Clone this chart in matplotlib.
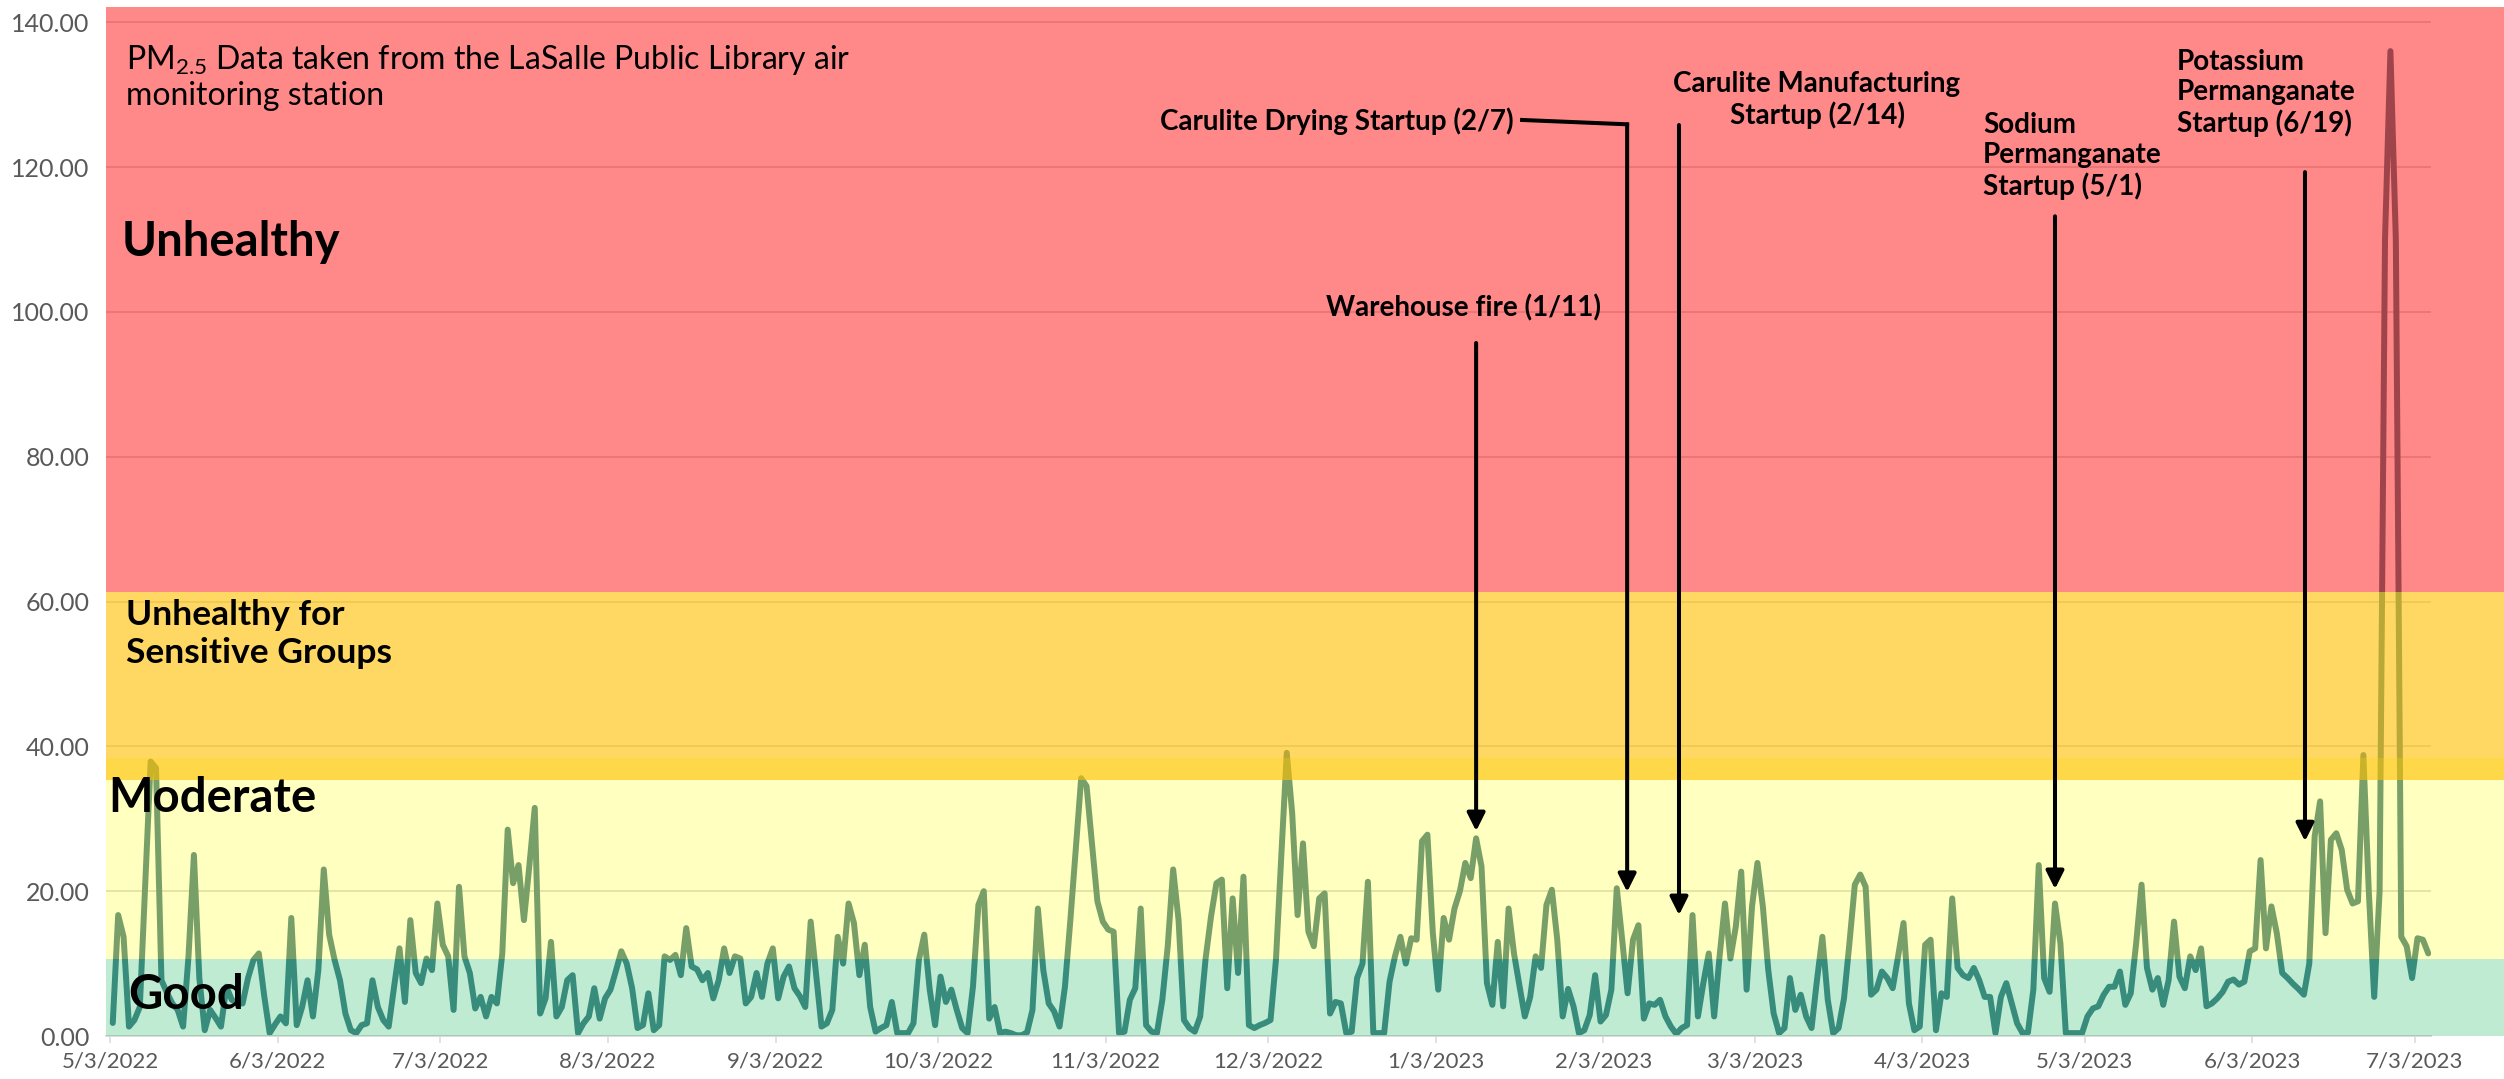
import matplotlib
matplotlib.use('Agg')
import matplotlib.pyplot as plt
import matplotlib.dates as mdates
import matplotlib.transforms as mtransforms
from matplotlib.patches import Rectangle
from matplotlib.ticker import FuncFormatter
import pandas as pd

plt.rcParams['font.family'] = ['Lato', 'DejaVu Sans']
plt.rcParams['mathtext.fontset'] = 'custom'
plt.rcParams['mathtext.rm'] = 'Lato'

W, H = 2504, 1079

# daily PM2.5, LaSalle Public Library, starting 5/3/2022
start_date = '2022-05-03'
pm25 = [
    # May 2022
    1.8, 16.7, 13.7, 1.3, 2.2, 4.0, 21, 37.9, 37.0, 7.7, 6.0, 4.5, 3.6, 1.3, 11,
    25.0, 8, 0.8, 3.6, 2.5, 1.3, 6.8, 5.0, 4.5, 4.5, 8, 10.5, 11.4, 5.5,
    # Jun
    0.4, 1.6, 2.7, 1.75, 16.3, 1.5, 4.0, 7.7, 2.7, 9.1, 23, 14, 10.5, 7.7, 3.1,
    0.8, 0.4, 1.5, 1.75, 7.7, 4.0, 2.2, 1.3, 6.8, 12.1, 4.7, 16, 8.7, 7.3, 10.7,
    # Jul
    9.1, 18.3, 12.6, 11, 3.6, 20.6, 11, 8.7, 3.8, 5.4, 2.7, 5.4, 4.5, 11.4, 28.5,
    21.1, 23.6, 16, 23.5, 31.5, 3.1, 5.2, 13, 2.7, 4.0, 7.7, 8.4, 0.4, 1.75, 2.7, 6.6,
    # Aug
    2.4, 5.2, 6.4, 9.0, 11.7, 10, 6.6, 1.1, 1.5, 5.9, 0.8, 1.5, 11, 10.5, 11.2,
    8.4, 14.9, 9.6, 9.2, 7.7, 8.7, 5.2, 7.7, 12.1, 8.7, 11, 10.7, 4.5, 5.4, 8.7, 5.4,
    # Sep
    10, 12.1, 5.2, 8.2, 9.6, 6.6, 5.5, 4.0, 15.8, 8.5, 1.3, 1.75, 3.6, 13.7, 10,
    18.3, 15.6, 8.4, 12.6, 4.0, 0.6, 1.1, 1.5, 4.7, 0.4, 0.4, 0.4, 1.75, 10.5, 14,
    # Oct
    6.4, 1.5, 8.2, 4.7, 6.4, 3.6, 1.1, 0.4, 6.8, 18.1, 20, 2.4, 4.0, 0.4, 0.6,
    0.4, 0.1, 0.1, 0.5, 3.6, 17.6, 9.1, 4.5, 3.4, 1.3, 6.8, 16, 25.8, 35.6, 34.5, 26.6,
    # Nov
    18.6, 15.8, 14.7, 14.4, 0.4, 0.6, 5, 6.6, 17.6, 1.5, 0.6, 0.4, 5, 12.4, 23,
    16, 2.2, 1.1, 0.6, 2.7, 10.7, 16.5, 21.1, 21.6, 6.6, 19, 8.7, 22, 1.5, 1.1,
    # Dec
    1.5, 1.8, 2.2, 10.5, 25, 39.1, 30.8, 16.7, 26.6, 14.4, 12.4, 19.0, 19.7, 3.1, 4.7,
    4.5, 0.4, 0.6, 8.0, 10.0, 21.3, 0.4, 0.4, 0.4, 7.5, 11, 13.7, 10.0, 13.5, 13.3, 26.9,
    # Jan 2023
    27.8, 14.2, 6.4, 16.3, 13.3, 17.6, 20.0, 23.9, 21.8, 27.3, 23.4, 7.3, 4.3, 13.0, 4.1,
    17.6, 11.4, 7, 2.7, 5.4, 11.0, 9.4, 18.1, 20.2, 13.3, 2.7, 6.5, 4.1, 0.4, 0.8, 2.9,
    # Feb
    8.4, 2.0, 2.9, 6.4, 20.4, 13.3, 5.9, 13.3, 15.3, 2.4, 4.5, 4.3, 5.0, 2.7,
    1.3, 0.3, 1.1, 1.5, 16.7, 2.7, 7.3, 11.4, 2.7, 11, 18.3, 10.7, 15.1, 22.7,
    # Mar
    6.4, 17.9, 23.9, 17.9, 9.1, 3.1, 0.4, 1.1, 8.0, 3.6, 5.7, 2.7, 1.1, 7.7, 13.7,
    5.0, 0.4, 1.1, 5.2, 12.8, 20.9, 22.3, 20.6, 5.7, 6.4, 8.9, 8.0, 6.6, 11.0, 15.6, 4.5,
    # Apr
    0.8, 1.3, 12.6, 13.3, 0.8, 5.9, 5.4, 19.0, 9.4, 8.4, 8.0, 9.4, 7.7, 5.4, 5.4,
    0.4, 5.4, 7.3, 4.5, 1.75, 0.4, 0.5, 6.4, 23.6, 8.0, 6.1, 18.3, 12.8, 0.4, 0.4,
    # May
    0.4, 0.4, 2.7, 3.8, 4.1, 5.7, 6.8, 6.8, 8.9, 4.3, 5.9, 12.8, 20.9, 9.4, 6.4,
    8.0, 4.3, 7.7, 15.8, 8.2, 6.6, 11.0, 9.1, 12.1, 4.1, 4.5, 5.2, 6.1, 7.5, 7.8, 7.1,
    # Jun
    7.5, 11.7, 12.1, 24.3, 12.1, 17.9, 14.2, 8.7, 8.0, 7.2, 6.5, 5.7, 10.0, 27.6, 32.4,
    14.2, 27.1, 28.0, 25.7, 20.2, 18.3, 18.6, 38.8, 20, 5.4, 20, 110, 136, 110, 13.7,
    # Jul
    12.4, 8.0, 13.5, 13.3, 11.4,
]

# AQI bands
band_labels = ['Good', 'Moderate', 'Unhealthy for\nSensitive Groups', 'Unhealthy']
band_lo = [0, 10.6, 35.3, 61.3]
band_hi = [10.6, 38.4, 61.3, 142.1]
band_colors = ['#00b050', '#ffff00', '#ffc000', '#ff0000']
band_alpha = [0.25, 0.25, 0.61, 0.467]

# annotations: text, arrow date, arrow top, arrow tip
events = ['Warehouse fire (1/11)', 'Carulite Drying Startup (2/7)',
          'Carulite Manufacturing\nStartup (2/14)', 'Sodium\nPermanganate\nStartup (5/1)',
          'Potassium\nPermanganate\nStartup (6/19)']
event_x = ['2023-01-10 12:00', '2023-02-07 10:00', '2023-02-17 00:00',
           '2023-04-27 12:00', '2023-06-12 17:00']
event_top = [95.7, 125.9, 125.8, 113.2, 119.3]
event_tip = [28.3, 19.9, 16.7, 20.3, 26.9]

dates = pd.date_range(start_date, periods=len(pm25), freq='D') + pd.Timedelta(hours=12)

fig = plt.figure(figsize=(W / 100, H / 100), dpi=100)
ax = fig.add_axes([106 / W, 43 / H, 2325 / W, 1029 / H])

ax.plot(dates, pm25, color='#4c808c', lw=4.3, solid_joinstyle='round',
        solid_capstyle='round', zorder=2)

trans = mtransforms.blended_transform_factory(fig.transFigure, ax.transData)
for lo, hi, c, a in zip(band_lo, band_hi, band_colors, band_alpha):
    ax.add_patch(Rectangle((106 / W, lo), 1 - 106 / W, hi - lo, transform=trans,
                           facecolor=c, alpha=a, lw=0, zorder=3, clip_on=False))

x0 = pd.Timestamp(start_date) - pd.Timedelta(hours=18)
ax.set_xlim(x0, pd.Timestamp(start_date) + pd.Timedelta(days=len(pm25)))
ax.set_ylim(0, 142.1)
ax.set_yticks(range(0, 141, 20))
ax.yaxis.set_major_formatter(FuncFormatter(lambda v, p: f'{v:.2f}'))
ax.xaxis.set_major_locator(mdates.MonthLocator(bymonthday=3))
ax.xaxis.set_major_formatter(FuncFormatter(
    lambda v, p: (lambda d: f'{d.month}/{d.day}/{d.year}')(mdates.num2date(v))))

ax.set_axisbelow(True)
ax.yaxis.grid(True, color='#d9d9d9', lw=1.3)
for s in ['top', 'right', 'left']:
    ax.spines[s].set_visible(False)
ax.spines['bottom'].set_color('#d9d9d9')
ax.spines['bottom'].set_linewidth(1.3)
ax.tick_params(axis='y', length=0, pad=12, labelsize=18, labelcolor='#595959')
ax.tick_params(axis='x', length=5, width=1.1, color='#d9d9d9', pad=6,
               labelsize=16, labelcolor='#595959')

# arrows
for i, (xd, top, tip) in enumerate(zip(event_x, event_top, event_tip)):
    ax.annotate('', xy=(pd.Timestamp(xd), tip), xytext=(pd.Timestamp(xd), top),
                arrowprops=dict(arrowstyle='-|>', color='black', lw=2.9,
                                mutation_scale=27, shrinkA=0, shrinkB=0),
                zorder=6, annotation_clip=False)
ax.plot([pd.Timestamp('2023-01-19'), pd.Timestamp(event_x[1])], [126.5, event_top[1]],
        color='black', lw=2.9, solid_capstyle='projecting', zorder=6)


def ftext(x, y, s, **kw):
    fig.text(x / W, 1 - y / H, s, zorder=7, color='black', **kw)


ftext(126, 77, 'PM$_{2.5}$ Data taken from the LaSalle Public Library air\nmonitoring station',
      fontsize=23, va='center', ha='left', linespacing=1.2)
ftext(122, 256, band_labels[3], fontsize=34, fontweight='bold', va='baseline')
ftext(108, 812, band_labels[1], fontsize=34, fontweight='bold', va='baseline')
ftext(128, 1009, band_labels[0], fontsize=34, fontweight='bold', va='baseline')
ftext(126, 634, band_labels[2], fontsize=25.5, fontweight='bold', va='center',
      linespacing=1.2)

ftext(1463, 308, events[0], fontsize=20, fontweight='bold', ha='center', va='center')
ftext(1514, 121, events[1], fontsize=20, fontweight='bold', ha='right', va='center')
ftext(1817, 100, events[2], fontsize=20, fontweight='bold', ha='center', va='center',
      multialignment='center', linespacing=1.2)
ftext(1983, 156, events[3], fontsize=20, fontweight='bold', ha='left', va='center',
      linespacing=1.2)
ftext(2177, 93, events[4], fontsize=20, fontweight='bold', ha='left', va='center',
      linespacing=1.2)

fig.savefig('out.png', dpi=100)
